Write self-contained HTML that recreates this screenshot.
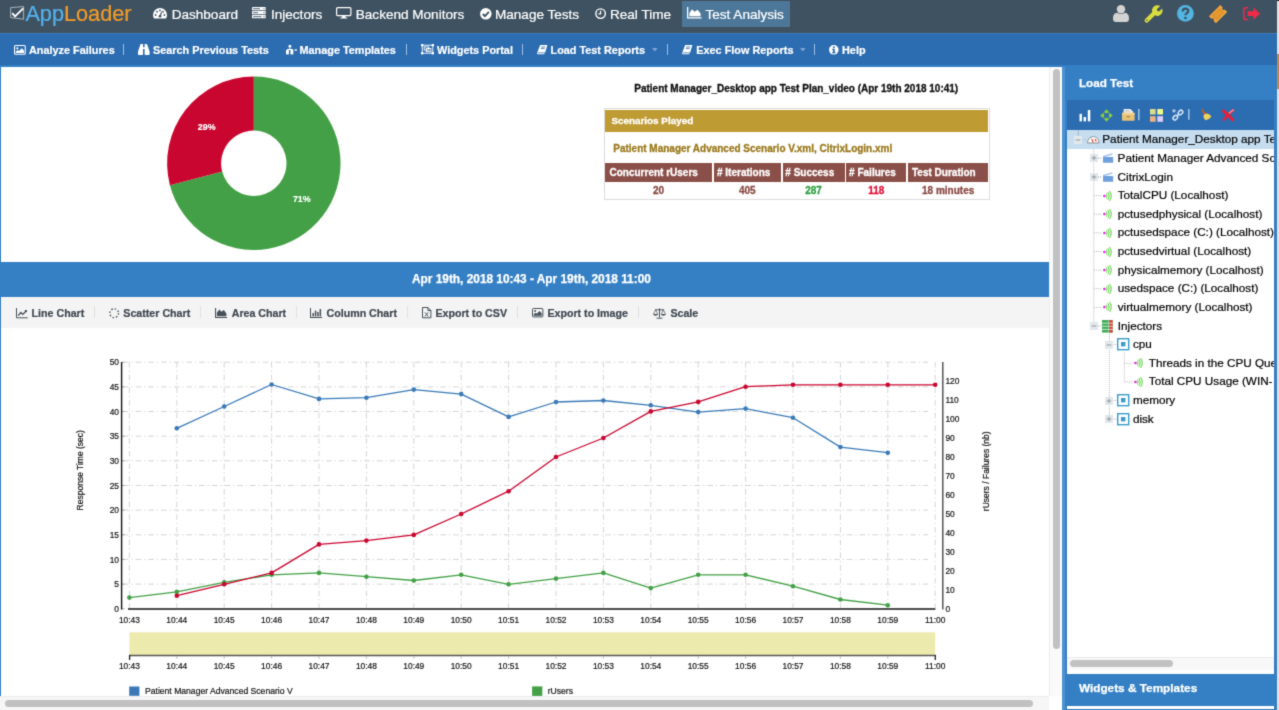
<!DOCTYPE html>
<html lang="en">
<head>
<meta charset="utf-8">
<title>AppLoader - Test Analysis</title>
<style>
*{box-sizing:border-box;margin:0;padding:0}
html,body{width:1279px;height:710px;overflow:hidden;background:#fff}
body{position:relative;font-family:"Liberation Sans",sans-serif;color:#000;-webkit-font-smoothing:antialiased}
#app{position:absolute;left:0;top:0;width:1279px;height:710px;overflow:hidden;background:#fff;filter:url(#soft)}
.abs{position:absolute}
.t{position:absolute;white-space:nowrap;line-height:1}
svg{position:absolute;overflow:visible}
/* top nav */
#nav{left:0;top:0;width:1279px;height:33px;background:#3f5261}
#nav .t{color:#fff;font-size:14px;top:8px;-webkit-text-stroke:.22px currentColor}
#navact{left:682px;top:1px;width:108px;height:26px;background:#4d7799}
/* blue sub toolbar */
#sub{left:0;top:33px;width:1279px;height:32px;background:#2c6cb0;box-shadow:inset 0 1px 0 #3a7cbd}
#sub .t{color:#fff;font-size:10.5px;font-weight:bold;top:11px;-webkit-text-stroke:.2px currentColor}
#sub .sep{position:absolute;top:11.3px;width:1.2px;height:10.8px;background:#9fc0e2}
#frame{left:0;top:65px;width:1279px;height:645px;background:#3580c5}
/* main area */
#main{left:1px;top:67px;width:1048px;height:643px;background:#fff}
#vtrack{left:1049px;top:67px;width:13px;height:629px;background:#fafafa;border-left:1px solid #ececec}
#vthumb{left:1052.5px;top:69px;width:7.2px;height:579.7px;border-radius:4px;background:#c1c1c1}
#htrack{left:0;top:696px;width:1049px;height:14px;background:#f6f6f6;border-top:1px solid #ececec}
#hthumb{left:4.5px;top:700px;width:1028px;height:7.3px;border-radius:4px;background:#c1c1c1}
#corner{left:1049px;top:696px;width:13px;height:14px;background:#fff}
#datebar{left:1px;top:262px;width:1048px;height:35px;background:#3580c5}
#datebar .t{color:#fff;font-weight:bold;font-size:11.87px;top:12.1px;-webkit-text-stroke:.25px #fff}
#cbar{left:1px;top:297px;width:1048px;height:31px;background:#f4f4f4}
#cbar .t{color:#3d4650;font-weight:bold;font-size:10.5px;top:10px;-webkit-text-stroke:.2px #3d4650}
#cbar .sep{position:absolute;top:9px;width:1px;height:12px;background:#e1e1e1}
/* right panel */
#rp{left:1066px;top:65px;width:211px;height:645px;background:#3580c5}
#rpsplit{left:1062px;top:67px;width:3px;height:643px;background:#4b93d3}
#rptool{left:1067px;top:99.5px;width:207px;height:31px;background:#2c6cb0}
#tree{left:1067px;top:130px;width:207px;height:540px;background:#fff;overflow:hidden}
#tree .t{font-size:11px;color:#000;-webkit-text-stroke:.2px #000}
#rpedge{left:1277px;top:0;width:2px;height:710px;background:#e2e2e2;border-top:1px solid #222}
#rpedge2{left:1277px;top:54px;width:2px;height:35px;background:#c28a4a}
</style>
</head>
<body>
<svg width="0" height="0" style="position:absolute"><defs><filter id="soft" x="0" y="0" width="100%" height="100%" color-interpolation-filters="sRGB"><feConvolveMatrix order="3" kernelMatrix="0.01960 0.10080 0.01960 0.10080 0.51840 0.10080 0.01960 0.10080 0.01960" divisor="1" edgeMode="duplicate" preserveAlpha="true"/></filter></defs></svg>
<div id="app">
<div id="nav" class="abs"><div id="navact" class="abs"></div>
<svg style="left:10px;top:6px" width="15" height="14" viewBox="0 0 15 14"><path d="M0.7 1.6 L13.6 0.6 L13.6 13.2 L0.7 11.6Z" fill="none" stroke="#aab5bd" stroke-width="1"/><path d="M2.2 7.2 L5 10.4 L13.2 2.4" fill="none" stroke="#fff" stroke-width="1.9"/></svg>
<span class="t" style="left:25.4px;font-size:21.7px;top:2.63px;letter-spacing:0"><span style="color:#54b1ee">App</span><span style="color:#f39c27">Loader</span></span>
<span class="t" style="left:171.7px;font-size:13.55px;top:7.53px;">Dashboard</span>
<span class="t" style="left:271px;font-size:13.55px;top:7.53px;">Injectors</span>
<span class="t" style="left:355.8px;font-size:13.55px;top:7.53px;">Backend Monitors</span>
<span class="t" style="left:495px;font-size:13.55px;top:7.53px;">Manage Tests</span>
<span class="t" style="left:610px;font-size:13.55px;top:7.53px;">Real Time</span>
<span class="t" style="left:705.5px;font-size:13.55px;top:7.53px;">Test Analysis</span>
<svg style="left:153px;top:8.3px" width="14" height="10.4" viewBox="0 0 14 10.4"><path d="M0 7 A7 7 0 0 1 14 7 Q14 9 13 10.4 H1 Q0 9 0 7Z" fill="#fff"/><g fill="#3f5261"><circle cx="2.6" cy="7" r=".9"/><circle cx="4" cy="3.7" r=".9"/><circle cx="7" cy="2.4" r=".9"/><circle cx="10" cy="3.7" r=".9"/><circle cx="11.4" cy="7" r=".9"/><path d="M6.2 8.6 L8.3 3.6 L9 3.9 L7.8 8.9Z"/><circle cx="7" cy="8.2" r="1.3"/></g></svg>
<svg style="left:252.3px;top:6.9px" width="13.7" height="11.2" viewBox="0 0 13.7 11.2"><g fill="#fff"><rect x="0" y="0" width="13.7" height="3.2" rx=".5"/><rect x="0" y="4" width="13.7" height="3.2" rx=".5"/><rect x="0" y="8" width="13.7" height="3.2" rx=".5"/></g><g fill="#6d7f8d"><rect x="1" y="1" width="7" height="1.2"/><rect x="1" y="5" width="5" height="1.2"/><rect x="1" y="9" width="8.5" height="1.2"/></g><g fill="#3f5261"><circle cx="12" cy="1.6" r=".6"/><circle cx="12" cy="5.6" r=".6"/><circle cx="12" cy="9.6" r=".6"/></g></svg>
<svg style="left:335.5px;top:7.2px" width="15.5" height="11.6" viewBox="0 0 15.5 11.6"><rect x=".6" y=".6" width="14.3" height="8" rx="1" fill="none" stroke="#fff" stroke-width="1.2"/><path d="M6.3 8.6 L5.8 10.4 H9.7 L9.2 8.6Z M4.3 10.4 H11.2 V11.4 H4.3Z" fill="#fff"/></svg>
<svg style="left:480px;top:7.8px" width="11.6" height="11.6" viewBox="0 0 12 12"><circle cx="6" cy="6" r="6" fill="#fff"/><path d="M2.9 6.2 L5.1 8.4 L9.2 4.1" fill="none" stroke="#3f5261" stroke-width="1.9"/></svg>
<svg style="left:594.5px;top:7.8px" width="11.2" height="11.2" viewBox="0 0 12 12"><circle cx="6" cy="6" r="5.1" fill="none" stroke="#fff" stroke-width="1.5"/><path d="M6 2.9 V6.4 H3.6" fill="none" stroke="#fff" stroke-width="1.3"/></svg>
<svg style="left:686.5px;top:7.4px" width="14.6" height="11.6" viewBox="0 0 14.6 11.6"><path d="M0 0 H1.3 V10.3 H14.6 V11.6 H0Z" fill="#fff"/><path d="M2.4 9.3 V6 L5 2.2 L7.6 4.8 L10.6 2.7 L13.6 6.6 V9.3Z" fill="#fff"/></svg>
<svg style="left:1113px;top:5px" width="16" height="17" viewBox="0 0 16 17"><circle cx="8" cy="4.2" r="4.2" fill="#d3d3d3"/><path d="M0 13.5 Q0 8.2 4 7.8 Q8 10.4 12 7.8 Q16 8.2 16 13.5 Q16 17 13 17 H3 Q0 17 0 13.5Z" fill="#d3d3d3"/></svg>
<svg style="left:1143.8px;top:5.2px" width="18.4" height="18.2" viewBox="0 0 18.4 18.2"><path d="M2.7 15.5 L10.6 7.8" stroke="#d9dc3f" stroke-width="4.3" stroke-linecap="round" fill="none"/><path d="M13 0.3 A5.3 5.3 0 0 1 16.2 1 L12.9 4.3 L13.4 6.0 L15.1 6.5 L18.1 3.4 A5.3 5.3 0 1 1 13 0.3Z" fill="#d9dc3f"/><circle cx="2.9" cy="15.3" r=".8" fill="#3f5261"/></svg>
<svg style="left:1176.8px;top:5.2px" width="16.8" height="16.8" viewBox="0 0 16.8 16.8"><circle cx="8.4" cy="8.4" r="8.4" fill="#52b5e3"/><path d="M5.7 6.4 Q5.7 3.6 8.5 3.6 Q11.2 3.6 11.2 6 Q11.2 7.5 9.6 8.2 Q8.5 8.7 8.5 10.2" fill="none" stroke="#3f5261" stroke-width="2.3"/><circle cx="8.5" cy="13" r="1.35" fill="#3f5261"/></svg>
<svg style="left:1209.4px;top:4.7px" width="18.2" height="18.2" viewBox="0 0 18.2 18.2"><g transform="rotate(-45 9.1 9.1)"><path d="M1.1 4.2 H17.1 V7.6 A1.5 1.5 0 0 0 17.1 10.6 V14 H1.1 V10.6 A1.5 1.5 0 0 0 1.1 7.6Z" fill="#f0a33c"/><rect x="4.3" y="6.5" width="9.6" height="5.2" fill="#e8982e" stroke="#c98628" stroke-width=".9"/></g></svg>
<svg style="left:1243.3px;top:7.3px" width="17" height="13.4" viewBox="0 0 17 13.4"><path d="M5.2 0.8 H3 Q.8 .8 .8 3 V10.4 Q.8 12.6 3 12.6 H5.2" fill="none" stroke="#ee2a4a" stroke-width="1.5"/><path d="M4.6 4.3 H10.4 V0.6 L17 6.7 L10.4 12.8 V9.1 H4.6Z" fill="#ee2a4a"/></svg>
</div>
<div id="sub" class="abs">
<span class="t" style="left:29px;font-size:10.86px;top:11.51px;">Analyze Failures</span>
<span class="t" style="left:153px;font-size:10.86px;top:11.51px;">Search Previous Tests</span>
<span class="t" style="left:299.5px;font-size:10.86px;top:11.51px;">Manage Templates</span>
<span class="t" style="left:437px;font-size:10.86px;top:11.51px;">Widgets Portal</span>
<span class="t" style="left:550.5px;font-size:10.86px;top:11.51px;">Load Test Reports</span>
<span class="t" style="left:696.3px;font-size:10.86px;top:11.51px;">Exec Flow Reports</span>
<span class="t" style="left:842px;font-size:10.86px;top:11.51px;">Help</span>
<i class="sep" style="left:123.3px"></i>
<i class="sep" style="left:406px"></i>
<i class="sep" style="left:521.7px"></i>
<i class="sep" style="left:666.7px"></i>
<i class="sep" style="left:813.5px"></i>
<svg style="left:13.5px;top:11.6px" width="11.8" height="9.8" viewBox="0 0 11.8 9.8"><rect x=".55" y=".55" width="10.7" height="8.7" rx="1" fill="none" stroke="#fff" stroke-width="1.1"/><circle cx="3.3" cy="3.3" r="1.1" fill="#fff"/><path d="M1.8 8 V6.6 L3.8 4.9 L5 5.9 L7.8 3.2 L10 5.4 V8Z" fill="#fff"/></svg>
<svg style="left:138px;top:11px" width="11.6" height="11" viewBox="0 0 11.6 11"><path d="M2.6 0 H5 V3.2 H6.6 V0 H9 L11.6 7.6 V10.2 Q11.6 11 10.8 11 H7.4 Q6.6 11 6.6 10.2 V5 H5 V10.2 Q5 11 4.2 11 H.8 Q0 11 0 10.2 V7.6Z" fill="#fff"/></svg>
<svg style="left:286px;top:12px" width="11" height="9.4" viewBox="0 0 11 9.4"><g fill="#fff"><rect x="2.6" y="0" width="2.6" height="2.4"/><rect x="3.5" y="2" width=".9" height="3"/><rect x="1" y="4" width="5.8" height="1"/><rect x="0" y="5" width="2.9" height="4.4"/><rect x="4.4" y="5" width="2.9" height="4.4"/><rect x="8.4" y="4.4" width="2.6" height="1.3"/></g></svg>
<svg style="left:420.8px;top:11.3px" width="13" height="10.4" viewBox="0 0 13 10.4"><g fill="none" stroke="#fff" stroke-width=".9"><rect x="1.2" y="1.2" width="10.6" height="8"/><rect x="3.2" y="2.9" width="4.6" height="3.2"/><rect x="5.3" y="4.5" width="4.6" height="3.2"/></g><g fill="#fff"><rect x="0" y="0" width="2.3" height="2.3"/><rect x="10.7" y="0" width="2.3" height="2.3"/><rect x="0" y="8.1" width="2.3" height="2.3"/><rect x="10.7" y="8.1" width="2.3" height="2.3"/></g></svg>
<svg style="left:537px;top:12px" width="10.4" height="9.2" viewBox="0 0 10.4 9.2"><path d="M3.2 0 H10.4 L8.2 7.4 H1 L0.6 8.3 H7.6 L7.3 9.2 H0.4 Q-0.3 8.6 0.3 7.4Z" fill="#fff"/><path d="M4.2 2 H8.2 M3.8 3.6 H7.6" stroke="#2c6cb0" stroke-width=".8"/></svg>
<svg style="left:682px;top:12px" width="10.4" height="9.2" viewBox="0 0 10.4 9.2"><path d="M3.2 0 H10.4 L8.2 7.4 H1 L0.6 8.3 H7.6 L7.3 9.2 H0.4 Q-0.3 8.6 0.3 7.4Z" fill="#fff"/><path d="M4.2 2 H8.2 M3.8 3.6 H7.6" stroke="#2c6cb0" stroke-width=".8"/></svg>
<svg style="left:652px;top:15.2px" width="5.6" height="3.4" viewBox="0 0 5.6 3.4"><path d="M0 0 H5.6 L2.8 3.4Z" fill="#7fa6d2"/></svg>
<svg style="left:800px;top:15.2px" width="5.6" height="3.4" viewBox="0 0 5.6 3.4"><path d="M0 0 H5.6 L2.8 3.4Z" fill="#7fa6d2"/></svg>
<svg style="left:829.3px;top:11.8px" width="9.6" height="9.6" viewBox="0 0 10 10"><circle cx="5" cy="5" r="5" fill="#fff"/><g fill="#2c6cb0"><rect x="4.1" y="1.5" width="1.9" height="1.7"/><path d="M3.3 4 H6 V7.3 H6.8 V8.5 H3.3 V7.3 H4.1 V5.2 H3.3Z"/></g></svg>
</div>
<div id="frame" class="abs"></div>
<div id="main" class="abs"></div>
<svg style="left:0;top:0" width="1049" height="262"><path d="M253.80 76.60 A86.7 86.7 0 1 1 169.90 185.15 L222.16 171.54 A32.7 32.7 0 1 0 253.80 130.60Z" fill="#43a046"/><path d="M169.90 185.15 A86.7 86.7 0 0 1 253.80 76.60 L253.80 130.60 A32.7 32.7 0 0 0 222.16 171.54Z" fill="#c9062f"/></svg>
<span class="t" style="left:197.8px;font-size:8.85px;top:122.51px;color:#fff;font-weight:bold;-webkit-text-stroke:.2px #fff">29%</span>
<span class="t" style="left:292.9px;font-size:8.85px;top:195.21px;color:#fff;font-weight:bold;-webkit-text-stroke:.2px #fff">71%</span>
<span class="t" style="left:634.3px;font-size:9.99px;top:83.54px;font-weight:bold;color:#111;-webkit-text-stroke:.3px #111">Patient Manager_Desktop app Test Plan_video (Apr 19th 2018 10:41)</span>
<div class="abs" style="left:603.5px;top:107.5px;width:386.3px;height:92.4px;border:1px solid #dcdcdc;background:#fff"></div>
<div class="abs" style="left:605px;top:109.8px;width:383px;height:22.5px;background:#bf9b34"></div>
<span class="t" style="left:611.4px;font-size:9.88px;top:116.24px;font-weight:bold;color:#fff;-webkit-text-stroke:.3px #fff">Scenarios Played</span>
<span class="t" style="left:613.3px;font-size:9.99px;top:143.54px;font-weight:bold;color:#9a7a1e;-webkit-text-stroke:.3px #9a7a1e">Patient Manager Advanced Scenario V.xml, CitrixLogin.xml</span>
<div class="abs" style="left:605px;top:163px;width:107.0px;height:18.8px;background:#8b4f49"></div>
<span class="t" style="left:609.5px;font-size:10.0px;top:168.03px;font-weight:bold;color:#fff;-webkit-text-stroke:.3px #fff">Concurrent rUsers</span>
<span class="t" style="left:605px;width:107.0px;text-align:center;font-size:10px;top:185.94px;font-weight:bold;color:#8b4a44;-webkit-text-stroke:.3px #8b4a44">20</span>
<div class="abs" style="left:713.8px;top:163px;width:66.9px;height:18.8px;background:#8b4f49"></div>
<span class="t" style="left:717.0px;font-size:10.0px;top:168.03px;font-weight:bold;color:#fff;-webkit-text-stroke:.3px #fff"># Iterations</span>
<span class="t" style="left:713.8px;width:66.9px;text-align:center;font-size:10px;top:185.94px;font-weight:bold;color:#8b4a44;-webkit-text-stroke:.3px #8b4a44">405</span>
<div class="abs" style="left:782.5px;top:163px;width:62.0px;height:18.8px;background:#8b4f49"></div>
<span class="t" style="left:785.3px;font-size:10.0px;top:168.03px;font-weight:bold;color:#fff;-webkit-text-stroke:.3px #fff"># Success</span>
<span class="t" style="left:782.5px;width:62.0px;text-align:center;font-size:10px;top:185.94px;font-weight:bold;color:#2fa043;-webkit-text-stroke:.3px #2fa043">287</span>
<div class="abs" style="left:846.3px;top:163px;width:60.1px;height:18.8px;background:#8b4f49"></div>
<span class="t" style="left:849.1px;font-size:10.0px;top:168.03px;font-weight:bold;color:#fff;-webkit-text-stroke:.3px #fff"># Failures</span>
<span class="t" style="left:846.3px;width:60.1px;text-align:center;font-size:10px;top:185.94px;font-weight:bold;color:#e2103c;-webkit-text-stroke:.3px #e2103c">118</span>
<div class="abs" style="left:908.3px;top:163px;width:79.7px;height:18.8px;background:#8b4f49"></div>
<span class="t" style="left:912.0px;font-size:10.0px;top:168.03px;font-weight:bold;color:#fff;-webkit-text-stroke:.3px #fff">Test Duration</span>
<span class="t" style="left:908.3px;width:79.7px;text-align:center;font-size:10px;top:185.94px;font-weight:bold;color:#8b4a44;-webkit-text-stroke:.3px #8b4a44">18 minutes</span>
<div id="datebar" class="abs"><span class="t" style="left:411px">Apr 19th, 2018 10:43 - Apr 19th, 2018 11:00</span></div>
<div id="cbar" class="abs">
<span class="t" style="left:30.6px;font-size:10.66px;top:10.78px;">Line Chart</span>
<span class="t" style="left:122.3px;font-size:10.66px;top:10.78px;">Scatter Chart</span>
<span class="t" style="left:230.7px;font-size:10.66px;top:10.78px;">Area Chart</span>
<span class="t" style="left:325.5px;font-size:10.66px;top:10.78px;">Column Chart</span>
<span class="t" style="left:434.4px;font-size:10.66px;top:10.78px;">Export to CSV</span>
<span class="t" style="left:546.4px;font-size:10.66px;top:10.78px;">Export to Image</span>
<span class="t" style="left:669.4px;font-size:10.66px;top:10.78px;">Scale</span>
<i class="sep" style="left:92.8px"></i>
<i class="sep" style="left:199.2px"></i>
<i class="sep" style="left:294.6px"></i>
<i class="sep" style="left:405.5px"></i>
<i class="sep" style="left:515.5px"></i>
<i class="sep" style="left:637.1px"></i>
<svg style="left:14.5px;top:10.7px" width="11.8" height="10.3" viewBox="0 0 11.8 10.3"><path d="M.5 0 V9.8 H11.8" fill="none" stroke="#46505a" stroke-width="1"/><path d="M2.2 7.6 L4.8 4.6 L6.8 6.4 L10.6 2.4" fill="none" stroke="#46505a" stroke-width="1.4"/><path d="M8.4 2 H11 V4.6Z" fill="#46505a"/></svg>
<svg style="left:108.2px;top:10.7px" width="10.4" height="10.4" viewBox="0 0 10.4 10.4"><circle cx="5.2" cy="5.2" r="4.4" fill="none" stroke="#46505a" stroke-width="1.4" stroke-dasharray="1.5 1.95"/></svg>
<svg style="left:214.3px;top:11.0px" width="12.1" height="10" viewBox="0 0 12.1 10"><path d="M0 0 H1.1 V8.9 H12.1 V10 H0Z" fill="#46505a"/><path d="M1.9 8.2 V4.8 L4.3 1.6 L6.4 3.8 L8.8 2 L11.4 5.4 V8.2Z" fill="#46505a"/></svg>
<svg style="left:309.2px;top:11.0px" width="12.1" height="10" viewBox="0 0 12.1 10"><path d="M0 0 H1 V9 H12.1 V10 H0Z" fill="#46505a"/><g fill="#46505a"><rect x="2.4" y="5" width="1.5" height="3.4"/><rect x="4.8" y="2.6" width="1.5" height="5.8"/><rect x="7.2" y="4" width="1.5" height="4.4"/><rect x="9.6" y="1" width="1.5" height="7.4"/></g></svg>
<svg style="left:420.9px;top:10.1px" width="9.4" height="11.3" viewBox="0 0 9.4 11.3"><path d="M.5 .5 H5.9 L8.9 3.5 V10.8 H.5Z M5.9 .5 V3.5 H8.9" fill="none" stroke="#46505a" stroke-width="1"/><path d="M3 5.4 L6.2 9.4 M6.2 5.4 L3 9.4" stroke="#46505a" stroke-width="1"/></svg>
<svg style="left:531.2px;top:11.2px" width="11.4" height="9.4" viewBox="0 0 11.4 9.4"><rect x=".5" y=".5" width="10.4" height="8.4" rx=".8" fill="none" stroke="#46505a" stroke-width="1"/><circle cx="3.1" cy="3.1" r="1" fill="#46505a"/><path d="M1.7 7.7 V6.3 L3.6 4.7 L4.8 5.7 L7.5 3.1 L9.7 5.2 V7.7Z" fill="#46505a"/></svg>
<svg style="left:652.3px;top:10.7px" width="13" height="10.7" viewBox="0 0 13 10.7"><path d="M6.5 .4 V9.6 M2 1.8 H11 M3.6 10.2 H9.4" fill="none" stroke="#46505a" stroke-width="1"/><path d="M2.6 1.9 L.5 6 M2.6 1.9 L4.7 6 M10.4 1.9 L8.3 6 M10.4 1.9 L12.5 6" stroke="#46505a" stroke-width=".7"/><path d="M0 6 H5.2 Q4.6 7.8 2.6 7.8 Q.6 7.8 0 6Z M7.8 6 H13 Q12.4 7.8 10.4 7.8 Q8.4 7.8 7.8 6Z" fill="#46505a"/></svg>
</div>
<svg style="left:0;top:0" width="1049" height="710"><path d="M123 584.1 H928" stroke="#d4d4d4" stroke-width="1" stroke-dasharray="5.5 3 1.2 3" fill="none"/><path d="M123 559.4 H928" stroke="#d4d4d4" stroke-width="1" stroke-dasharray="5.5 3 1.2 3" fill="none"/><path d="M123 534.8 H928" stroke="#d4d4d4" stroke-width="1" stroke-dasharray="5.5 3 1.2 3" fill="none"/><path d="M123 510.1 H928" stroke="#d4d4d4" stroke-width="1" stroke-dasharray="5.5 3 1.2 3" fill="none"/><path d="M123 485.5 H928" stroke="#d4d4d4" stroke-width="1" stroke-dasharray="5.5 3 1.2 3" fill="none"/><path d="M123 460.8 H928" stroke="#d4d4d4" stroke-width="1" stroke-dasharray="5.5 3 1.2 3" fill="none"/><path d="M123 436.2 H928" stroke="#d4d4d4" stroke-width="1" stroke-dasharray="5.5 3 1.2 3" fill="none"/><path d="M123 411.5 H928" stroke="#d4d4d4" stroke-width="1" stroke-dasharray="5.5 3 1.2 3" fill="none"/><path d="M123 386.9 H928" stroke="#d4d4d4" stroke-width="1" stroke-dasharray="5.5 3 1.2 3" fill="none"/><path d="M123 362.2 H928" stroke="#d4d4d4" stroke-width="1" stroke-dasharray="5.5 3 1.2 3" fill="none"/><path d="M129.4 362 V608" stroke="#d4d4d4" stroke-width="1" stroke-dasharray="5.5 3 1.2 3" fill="none"/><path d="M176.8 362 V608" stroke="#d4d4d4" stroke-width="1" stroke-dasharray="5.5 3 1.2 3" fill="none"/><path d="M224.2 362 V608" stroke="#d4d4d4" stroke-width="1" stroke-dasharray="5.5 3 1.2 3" fill="none"/><path d="M271.6 362 V608" stroke="#d4d4d4" stroke-width="1" stroke-dasharray="5.5 3 1.2 3" fill="none"/><path d="M319.0 362 V608" stroke="#d4d4d4" stroke-width="1" stroke-dasharray="5.5 3 1.2 3" fill="none"/><path d="M366.4 362 V608" stroke="#d4d4d4" stroke-width="1" stroke-dasharray="5.5 3 1.2 3" fill="none"/><path d="M413.8 362 V608" stroke="#d4d4d4" stroke-width="1" stroke-dasharray="5.5 3 1.2 3" fill="none"/><path d="M461.2 362 V608" stroke="#d4d4d4" stroke-width="1" stroke-dasharray="5.5 3 1.2 3" fill="none"/><path d="M508.6 362 V608" stroke="#d4d4d4" stroke-width="1" stroke-dasharray="5.5 3 1.2 3" fill="none"/><path d="M556.0 362 V608" stroke="#d4d4d4" stroke-width="1" stroke-dasharray="5.5 3 1.2 3" fill="none"/><path d="M603.4 362 V608" stroke="#d4d4d4" stroke-width="1" stroke-dasharray="5.5 3 1.2 3" fill="none"/><path d="M650.8 362 V608" stroke="#d4d4d4" stroke-width="1" stroke-dasharray="5.5 3 1.2 3" fill="none"/><path d="M698.2 362 V608" stroke="#d4d4d4" stroke-width="1" stroke-dasharray="5.5 3 1.2 3" fill="none"/><path d="M745.6 362 V608" stroke="#d4d4d4" stroke-width="1" stroke-dasharray="5.5 3 1.2 3" fill="none"/><path d="M793.0 362 V608" stroke="#d4d4d4" stroke-width="1" stroke-dasharray="5.5 3 1.2 3" fill="none"/><path d="M840.4 362 V608" stroke="#d4d4d4" stroke-width="1" stroke-dasharray="5.5 3 1.2 3" fill="none"/><path d="M887.8 362 V608" stroke="#d4d4d4" stroke-width="1" stroke-dasharray="5.5 3 1.2 3" fill="none"/><path d="M935.2 362 V608" stroke="#d4d4d4" stroke-width="1" stroke-dasharray="5.5 3 1.2 3" fill="none"/><path d="M122 608.7 H124.5" stroke="#999" stroke-width=".8"/><path d="M122 584.1 H124.5" stroke="#999" stroke-width=".8"/><path d="M122 559.4 H124.5" stroke="#999" stroke-width=".8"/><path d="M122 534.8 H124.5" stroke="#999" stroke-width=".8"/><path d="M122 510.1 H124.5" stroke="#999" stroke-width=".8"/><path d="M122 485.5 H124.5" stroke="#999" stroke-width=".8"/><path d="M122 460.8 H124.5" stroke="#999" stroke-width=".8"/><path d="M122 436.2 H124.5" stroke="#999" stroke-width=".8"/><path d="M122 411.5 H124.5" stroke="#999" stroke-width=".8"/><path d="M122 386.9 H124.5" stroke="#999" stroke-width=".8"/><path d="M122 362.2 H124.5" stroke="#999" stroke-width=".8"/><path d="M129.4 597.6 L176.8 591.9 L224.2 582.4 L271.6 574.8 L319.0 572.9 L366.4 576.7 L413.8 580.5 L461.2 574.8 L508.6 584.3 L556.0 578.6 L603.4 572.9 L650.8 588.1 L698.2 574.8 L745.6 574.8 L793.0 586.2 L840.4 599.5 L887.8 605.2" fill="none" stroke="#43a046" stroke-width="1.3" stroke-linejoin="round"/><circle cx="129.4" cy="597.6" r="2.3" fill="#43a046"/><circle cx="176.8" cy="591.9" r="2.3" fill="#43a046"/><circle cx="224.2" cy="582.4" r="2.3" fill="#43a046"/><circle cx="271.6" cy="574.8" r="2.3" fill="#43a046"/><circle cx="319.0" cy="572.9" r="2.3" fill="#43a046"/><circle cx="366.4" cy="576.7" r="2.3" fill="#43a046"/><circle cx="413.8" cy="580.5" r="2.3" fill="#43a046"/><circle cx="461.2" cy="574.8" r="2.3" fill="#43a046"/><circle cx="508.6" cy="584.3" r="2.3" fill="#43a046"/><circle cx="556.0" cy="578.6" r="2.3" fill="#43a046"/><circle cx="603.4" cy="572.9" r="2.3" fill="#43a046"/><circle cx="650.8" cy="588.1" r="2.3" fill="#43a046"/><circle cx="698.2" cy="574.8" r="2.3" fill="#43a046"/><circle cx="745.6" cy="574.8" r="2.3" fill="#43a046"/><circle cx="793.0" cy="586.2" r="2.3" fill="#43a046"/><circle cx="840.4" cy="599.5" r="2.3" fill="#43a046"/><circle cx="887.8" cy="605.2" r="2.3" fill="#43a046"/><path d="M176.8 428.3 L224.2 406.5 L271.6 384.5 L319.0 398.9 L366.4 397.7 L413.8 389.6 L461.2 394.1 L508.6 416.9 L556.0 402.0 L603.4 400.5 L650.8 405.3 L698.2 412.1 L745.6 408.6 L793.0 417.7 L840.4 447.1 L887.8 452.7" fill="none" stroke="#3a7ab8" stroke-width="1.3" stroke-linejoin="round"/><circle cx="176.8" cy="428.3" r="2.3" fill="#3a7ab8"/><circle cx="224.2" cy="406.5" r="2.3" fill="#3a7ab8"/><circle cx="271.6" cy="384.5" r="2.3" fill="#3a7ab8"/><circle cx="319.0" cy="398.9" r="2.3" fill="#3a7ab8"/><circle cx="366.4" cy="397.7" r="2.3" fill="#3a7ab8"/><circle cx="413.8" cy="389.6" r="2.3" fill="#3a7ab8"/><circle cx="461.2" cy="394.1" r="2.3" fill="#3a7ab8"/><circle cx="508.6" cy="416.9" r="2.3" fill="#3a7ab8"/><circle cx="556.0" cy="402.0" r="2.3" fill="#3a7ab8"/><circle cx="603.4" cy="400.5" r="2.3" fill="#3a7ab8"/><circle cx="650.8" cy="405.3" r="2.3" fill="#3a7ab8"/><circle cx="698.2" cy="412.1" r="2.3" fill="#3a7ab8"/><circle cx="745.6" cy="408.6" r="2.3" fill="#3a7ab8"/><circle cx="793.0" cy="417.7" r="2.3" fill="#3a7ab8"/><circle cx="840.4" cy="447.1" r="2.3" fill="#3a7ab8"/><circle cx="887.8" cy="452.7" r="2.3" fill="#3a7ab8"/><path d="M176.8 595.7 L224.2 584.3 L271.6 572.9 L319.0 544.4 L366.4 540.6 L413.8 534.9 L461.2 514.0 L508.6 491.2 L556.0 457.0 L603.4 438.0 L650.8 411.4 L698.2 401.9 L745.6 386.7 L793.0 384.8 L840.4 384.8 L887.8 384.8 L935.2 384.8" fill="none" stroke="#c9062f" stroke-width="1.3" stroke-linejoin="round"/><circle cx="176.8" cy="595.7" r="2.3" fill="#c9062f"/><circle cx="224.2" cy="584.3" r="2.3" fill="#c9062f"/><circle cx="271.6" cy="572.9" r="2.3" fill="#c9062f"/><circle cx="319.0" cy="544.4" r="2.3" fill="#c9062f"/><circle cx="366.4" cy="540.6" r="2.3" fill="#c9062f"/><circle cx="413.8" cy="534.9" r="2.3" fill="#c9062f"/><circle cx="461.2" cy="514.0" r="2.3" fill="#c9062f"/><circle cx="508.6" cy="491.2" r="2.3" fill="#c9062f"/><circle cx="556.0" cy="457.0" r="2.3" fill="#c9062f"/><circle cx="603.4" cy="438.0" r="2.3" fill="#c9062f"/><circle cx="650.8" cy="411.4" r="2.3" fill="#c9062f"/><circle cx="698.2" cy="401.9" r="2.3" fill="#c9062f"/><circle cx="745.6" cy="386.7" r="2.3" fill="#c9062f"/><circle cx="793.0" cy="384.8" r="2.3" fill="#c9062f"/><circle cx="840.4" cy="384.8" r="2.3" fill="#c9062f"/><circle cx="887.8" cy="384.8" r="2.3" fill="#c9062f"/><circle cx="935.2" cy="384.8" r="2.3" fill="#c9062f"/><path d="M121.6 362 V609.6" stroke="#111" stroke-width="1.4"/><path d="M128 609 H935.4" stroke="#111" stroke-width="1.4"/><path d="M942.8 362 V609.6" stroke="#555" stroke-width="1.5"/><rect x="129.4" y="632.3" width="805.8" height="22.7" fill="#edeaae"/><path d="M129 655.5 H935.6" stroke="#555" stroke-width="1.3"/><path d="M129.6 655 V660 M935.3 655 V660" stroke="#222" stroke-width="1.3"/><path d="M176.8 656.2 V658.6" stroke="#b5b5b5" stroke-width="1"/><path d="M224.2 656.2 V658.6" stroke="#b5b5b5" stroke-width="1"/><path d="M271.6 656.2 V658.6" stroke="#b5b5b5" stroke-width="1"/><path d="M319.0 656.2 V658.6" stroke="#b5b5b5" stroke-width="1"/><path d="M366.4 656.2 V658.6" stroke="#b5b5b5" stroke-width="1"/><path d="M413.8 656.2 V658.6" stroke="#b5b5b5" stroke-width="1"/><path d="M461.2 656.2 V658.6" stroke="#b5b5b5" stroke-width="1"/><path d="M508.6 656.2 V658.6" stroke="#b5b5b5" stroke-width="1"/><path d="M556.0 656.2 V658.6" stroke="#b5b5b5" stroke-width="1"/><path d="M603.4 656.2 V658.6" stroke="#b5b5b5" stroke-width="1"/><path d="M650.8 656.2 V658.6" stroke="#b5b5b5" stroke-width="1"/><path d="M698.2 656.2 V658.6" stroke="#b5b5b5" stroke-width="1"/><path d="M745.6 656.2 V658.6" stroke="#b5b5b5" stroke-width="1"/><path d="M793.0 656.2 V658.6" stroke="#b5b5b5" stroke-width="1"/><path d="M840.4 656.2 V658.6" stroke="#b5b5b5" stroke-width="1"/><path d="M887.8 656.2 V658.6" stroke="#b5b5b5" stroke-width="1"/><rect x="129.2" y="686.5" width="10.2" height="9.3" fill="#3a78b6"/><rect x="532.1" y="686.4" width="10.2" height="9.5" fill="#43a046"/></svg>
<span class="t" style="left:89px;width:30px;text-align:right;font-size:8.4px;top:604.99px;color:#151515;-webkit-text-stroke:.2px #151515;">0</span>
<span class="t" style="left:89px;width:30px;text-align:right;font-size:8.4px;top:580.34px;color:#151515;-webkit-text-stroke:.2px #151515;">5</span>
<span class="t" style="left:89px;width:30px;text-align:right;font-size:8.4px;top:555.69px;color:#151515;-webkit-text-stroke:.2px #151515;">10</span>
<span class="t" style="left:89px;width:30px;text-align:right;font-size:8.4px;top:531.04px;color:#151515;-webkit-text-stroke:.2px #151515;">15</span>
<span class="t" style="left:89px;width:30px;text-align:right;font-size:8.4px;top:506.39px;color:#151515;-webkit-text-stroke:.2px #151515;">20</span>
<span class="t" style="left:89px;width:30px;text-align:right;font-size:8.4px;top:481.74px;color:#151515;-webkit-text-stroke:.2px #151515;">25</span>
<span class="t" style="left:89px;width:30px;text-align:right;font-size:8.4px;top:457.09px;color:#151515;-webkit-text-stroke:.2px #151515;">30</span>
<span class="t" style="left:89px;width:30px;text-align:right;font-size:8.4px;top:432.44px;color:#151515;-webkit-text-stroke:.2px #151515;">35</span>
<span class="t" style="left:89px;width:30px;text-align:right;font-size:8.4px;top:407.79px;color:#151515;-webkit-text-stroke:.2px #151515;">40</span>
<span class="t" style="left:89px;width:30px;text-align:right;font-size:8.4px;top:383.14px;color:#151515;-webkit-text-stroke:.2px #151515;">45</span>
<span class="t" style="left:89px;width:30px;text-align:right;font-size:8.4px;top:358.49px;color:#151515;-webkit-text-stroke:.2px #151515;">50</span>
<span class="t" style="left:945.4px;font-size:8.4px;top:604.89px;color:#151515;-webkit-text-stroke:.2px #151515;">0</span>
<span class="t" style="left:945.4px;font-size:8.4px;top:585.89px;color:#151515;-webkit-text-stroke:.2px #151515;">10</span>
<span class="t" style="left:945.4px;font-size:8.4px;top:566.89px;color:#151515;-webkit-text-stroke:.2px #151515;">20</span>
<span class="t" style="left:945.4px;font-size:8.4px;top:547.89px;color:#151515;-webkit-text-stroke:.2px #151515;">30</span>
<span class="t" style="left:945.4px;font-size:8.4px;top:528.89px;color:#151515;-webkit-text-stroke:.2px #151515;">40</span>
<span class="t" style="left:945.4px;font-size:8.4px;top:509.89px;color:#151515;-webkit-text-stroke:.2px #151515;">50</span>
<span class="t" style="left:945.4px;font-size:8.4px;top:490.89px;color:#151515;-webkit-text-stroke:.2px #151515;">60</span>
<span class="t" style="left:945.4px;font-size:8.4px;top:471.89px;color:#151515;-webkit-text-stroke:.2px #151515;">70</span>
<span class="t" style="left:945.4px;font-size:8.4px;top:452.89px;color:#151515;-webkit-text-stroke:.2px #151515;">80</span>
<span class="t" style="left:945.4px;font-size:8.4px;top:433.89px;color:#151515;-webkit-text-stroke:.2px #151515;">90</span>
<span class="t" style="left:945.4px;font-size:8.4px;top:414.89px;color:#151515;-webkit-text-stroke:.2px #151515;">100</span>
<span class="t" style="left:945.4px;font-size:8.4px;top:395.89px;color:#151515;-webkit-text-stroke:.2px #151515;">110</span>
<span class="t" style="left:945.4px;font-size:8.4px;top:376.89px;color:#151515;-webkit-text-stroke:.2px #151515;">120</span>
<span class="t" style="left:109.4px;width:40px;text-align:center;font-size:8.4px;top:616.09px;color:#151515;-webkit-text-stroke:.2px #151515;">10:43</span>
<span class="t" style="left:109.4px;width:40px;text-align:center;font-size:8.4px;top:661.69px;color:#151515;-webkit-text-stroke:.2px #151515;">10:43</span>
<span class="t" style="left:156.8px;width:40px;text-align:center;font-size:8.4px;top:616.09px;color:#151515;-webkit-text-stroke:.2px #151515;">10:44</span>
<span class="t" style="left:156.8px;width:40px;text-align:center;font-size:8.4px;top:661.69px;color:#151515;-webkit-text-stroke:.2px #151515;">10:44</span>
<span class="t" style="left:204.2px;width:40px;text-align:center;font-size:8.4px;top:616.09px;color:#151515;-webkit-text-stroke:.2px #151515;">10:45</span>
<span class="t" style="left:204.2px;width:40px;text-align:center;font-size:8.4px;top:661.69px;color:#151515;-webkit-text-stroke:.2px #151515;">10:45</span>
<span class="t" style="left:251.6px;width:40px;text-align:center;font-size:8.4px;top:616.09px;color:#151515;-webkit-text-stroke:.2px #151515;">10:46</span>
<span class="t" style="left:251.6px;width:40px;text-align:center;font-size:8.4px;top:661.69px;color:#151515;-webkit-text-stroke:.2px #151515;">10:46</span>
<span class="t" style="left:299.0px;width:40px;text-align:center;font-size:8.4px;top:616.09px;color:#151515;-webkit-text-stroke:.2px #151515;">10:47</span>
<span class="t" style="left:299.0px;width:40px;text-align:center;font-size:8.4px;top:661.69px;color:#151515;-webkit-text-stroke:.2px #151515;">10:47</span>
<span class="t" style="left:346.4px;width:40px;text-align:center;font-size:8.4px;top:616.09px;color:#151515;-webkit-text-stroke:.2px #151515;">10:48</span>
<span class="t" style="left:346.4px;width:40px;text-align:center;font-size:8.4px;top:661.69px;color:#151515;-webkit-text-stroke:.2px #151515;">10:48</span>
<span class="t" style="left:393.8px;width:40px;text-align:center;font-size:8.4px;top:616.09px;color:#151515;-webkit-text-stroke:.2px #151515;">10:49</span>
<span class="t" style="left:393.8px;width:40px;text-align:center;font-size:8.4px;top:661.69px;color:#151515;-webkit-text-stroke:.2px #151515;">10:49</span>
<span class="t" style="left:441.2px;width:40px;text-align:center;font-size:8.4px;top:616.09px;color:#151515;-webkit-text-stroke:.2px #151515;">10:50</span>
<span class="t" style="left:441.2px;width:40px;text-align:center;font-size:8.4px;top:661.69px;color:#151515;-webkit-text-stroke:.2px #151515;">10:50</span>
<span class="t" style="left:488.6px;width:40px;text-align:center;font-size:8.4px;top:616.09px;color:#151515;-webkit-text-stroke:.2px #151515;">10:51</span>
<span class="t" style="left:488.6px;width:40px;text-align:center;font-size:8.4px;top:661.69px;color:#151515;-webkit-text-stroke:.2px #151515;">10:51</span>
<span class="t" style="left:536.0px;width:40px;text-align:center;font-size:8.4px;top:616.09px;color:#151515;-webkit-text-stroke:.2px #151515;">10:52</span>
<span class="t" style="left:536.0px;width:40px;text-align:center;font-size:8.4px;top:661.69px;color:#151515;-webkit-text-stroke:.2px #151515;">10:52</span>
<span class="t" style="left:583.4px;width:40px;text-align:center;font-size:8.4px;top:616.09px;color:#151515;-webkit-text-stroke:.2px #151515;">10:53</span>
<span class="t" style="left:583.4px;width:40px;text-align:center;font-size:8.4px;top:661.69px;color:#151515;-webkit-text-stroke:.2px #151515;">10:53</span>
<span class="t" style="left:630.8px;width:40px;text-align:center;font-size:8.4px;top:616.09px;color:#151515;-webkit-text-stroke:.2px #151515;">10:54</span>
<span class="t" style="left:630.8px;width:40px;text-align:center;font-size:8.4px;top:661.69px;color:#151515;-webkit-text-stroke:.2px #151515;">10:54</span>
<span class="t" style="left:678.2px;width:40px;text-align:center;font-size:8.4px;top:616.09px;color:#151515;-webkit-text-stroke:.2px #151515;">10:55</span>
<span class="t" style="left:678.2px;width:40px;text-align:center;font-size:8.4px;top:661.69px;color:#151515;-webkit-text-stroke:.2px #151515;">10:55</span>
<span class="t" style="left:725.6px;width:40px;text-align:center;font-size:8.4px;top:616.09px;color:#151515;-webkit-text-stroke:.2px #151515;">10:56</span>
<span class="t" style="left:725.6px;width:40px;text-align:center;font-size:8.4px;top:661.69px;color:#151515;-webkit-text-stroke:.2px #151515;">10:56</span>
<span class="t" style="left:773.0px;width:40px;text-align:center;font-size:8.4px;top:616.09px;color:#151515;-webkit-text-stroke:.2px #151515;">10:57</span>
<span class="t" style="left:773.0px;width:40px;text-align:center;font-size:8.4px;top:661.69px;color:#151515;-webkit-text-stroke:.2px #151515;">10:57</span>
<span class="t" style="left:820.4px;width:40px;text-align:center;font-size:8.4px;top:616.09px;color:#151515;-webkit-text-stroke:.2px #151515;">10:58</span>
<span class="t" style="left:820.4px;width:40px;text-align:center;font-size:8.4px;top:661.69px;color:#151515;-webkit-text-stroke:.2px #151515;">10:58</span>
<span class="t" style="left:867.8px;width:40px;text-align:center;font-size:8.4px;top:616.09px;color:#151515;-webkit-text-stroke:.2px #151515;">10:59</span>
<span class="t" style="left:867.8px;width:40px;text-align:center;font-size:8.4px;top:661.69px;color:#151515;-webkit-text-stroke:.2px #151515;">10:59</span>
<span class="t" style="left:915.2px;width:40px;text-align:center;font-size:8.4px;top:616.09px;color:#151515;-webkit-text-stroke:.2px #151515;">11:00</span>
<span class="t" style="left:915.2px;width:40px;text-align:center;font-size:8.4px;top:661.69px;color:#151515;-webkit-text-stroke:.2px #151515;">11:00</span>
<span class="t" style="left:145px;font-size:8.6px;top:686.92px;color:#151515;-webkit-text-stroke:.2px #151515;">Patient Manager Advanced Scenario V</span>
<span class="t" style="left:547.7px;font-size:8.6px;top:686.92px;color:#151515;-webkit-text-stroke:.2px #151515;">rUsers</span>
<span class="t" style="left:20.0px;top:465.55px;width:120px;text-align:center;font-size:8.5px;transform:rotate(-90deg);color:#151515;-webkit-text-stroke:.2px #151515;">Response Time (sec)</span>
<span class="t" style="left:926.3px;top:467.25px;width:120px;text-align:center;font-size:8.5px;transform:rotate(-90deg);color:#151515;-webkit-text-stroke:.2px #151515;">rUsers / Failures (nb)</span>
<div id="htrack" class="abs"></div><div id="hthumb" class="abs"></div>
<div id="vtrack" class="abs"></div><div id="vthumb" class="abs"></div><div id="corner" class="abs"></div>
<div id="rpsplit" class="abs"></div>
<div id="rp" class="abs"></div>
<div id="rptool" class="abs">
<svg style="left:11.8px;top:10.5px" width="11.8" height="11.4" viewBox="0 0 11.8 11.4"><g fill="#fff"><rect x=".5" y="3.8" width="2.4" height="7.6"/><rect x="4.6" y="7" width="2.4" height="4.4"/><rect x="8.8" y="0" width="2.5" height="11.4"/></g></svg>
<svg style="left:32.5px;top:9.3px" width="13" height="13" viewBox="0 0 13 13"><g fill="#8fd43a" stroke="#8fd43a" stroke-width=".8" stroke-linejoin="round"><path d="M6.5 .7 L8.6 3.3 Q6.5 4.4 4.4 3.3Z"/><path d="M6.5 12.3 L8.6 9.7 Q6.5 8.6 4.4 9.7Z"/><path d="M.7 6.5 L3.3 4.4 Q4.4 6.5 3.3 8.6Z"/><path d="M12.3 6.5 L9.7 4.4 Q8.6 6.5 9.7 8.6Z"/></g></svg>
<svg style="left:54.5px;top:9.8px" width="12.6" height="11.8" viewBox="0 0 12.6 11.8"><path d="M1.6 0 H8.2 L11 2.6 V5 H1.6Z" fill="#f4f4f4"/><path d="M2.6 1.4 H7 M2.6 2.8 H8.6" stroke="#b8b8b8" stroke-width=".7"/><rect x="0" y="3.8" width="12.6" height="8" rx=".8" fill="#e9c276"/><rect x="0" y="3.8" width="12.6" height="1.6" fill="#f3d89a"/><rect x="4.6" y="7.2" width="3.4" height="1.1" fill="#a77f35"/></svg>
<svg style="left:71.0px;top:9.5px" width="1.6" height="11.2" viewBox="0 0 1.6 11.2"><rect width="1.6" height="11.2" fill="#9dbfe2"/></svg>
<svg style="left:82.8px;top:9.2px" width="13" height="12.8" viewBox="0 0 13 12.8"><rect x="0" y="0" width="5.6" height="5.5" fill="#dcdc8a"/><rect x="7.3" y="0" width="5.7" height="5.5" fill="#f1fb88"/><rect x="0" y="7.2" width="5.6" height="5.6" fill="#f1b27e"/><rect x="7.3" y="7.2" width="5.7" height="5.6" fill="#dccffb"/></svg>
<svg style="left:105.4px;top:9.4px" width="11.8" height="12" viewBox="0 0 11.8 12"><g fill="none" stroke="#d5e6f7" stroke-width="1.5"><ellipse cx="3.3" cy="8.7" rx="2.6" ry="1.9" transform="rotate(-45 3.3 8.7)"/><ellipse cx="8.5" cy="3.5" rx="2.6" ry="1.9" transform="rotate(-45 8.5 3.5)"/><path d="M4.8 7.2 L7 5"/></g><path d="M2 0 V3.8 M.1 1.9 H3.9 M.8 .7 L3.2 3.1 M3.2 .7 L.8 3.1" stroke="#d5e6f7" stroke-width=".7"/></svg>
<svg style="left:121.1px;top:9.9px" width="1.6" height="10.8" viewBox="0 0 1.6 10.8"><rect width="1.6" height="10.8" fill="#9dbfe2"/></svg>
<svg style="left:133.0px;top:9.4px" width="11.4" height="11.2" viewBox="0 0 11.4 11.2"><path d="M1 .2 L2.8 .1 L5.4 4 L3.6 5.2Z" fill="#a8682a"/><path d="M3 4.7 L5.7 3.1 L6.6 4.5 L3.9 6.1Z" fill="#d9503a"/><path d="M3.7 6 L6.5 4.4 Q10.2 4.8 11.4 7.6 Q9.4 10.6 5.6 11.2 Q3 9.2 3.7 6Z" fill="#f3da5e"/><path d="M5.2 6.8 L6.6 10.6 M6.8 6 L9.2 9.4 M8.2 5.4 L10.6 8" stroke="#d9ba3c" stroke-width=".6"/></svg>
<svg style="left:155.0px;top:9.4px" width="12.4" height="12.2" viewBox="0 0 12.4 12.2"><path d="M1.6 2 Q5.4 5.2 10.6 10.8" stroke="#e71f3b" stroke-width="3.1" stroke-linecap="round" fill="none"/><path d="M1.9 10.6 Q5.4 5.4 11.2 1.2" stroke="#e71f3b" stroke-width="2.6" stroke-linecap="round" fill="none"/><path d="M7.4 4 Q9.4 2.2 11.4 1" stroke="#f7929d" stroke-width="1.5" stroke-linecap="round" fill="none"/></svg>
</div>
<div id="tree" class="abs">
<div class="abs" style="left:0;top:0;width:209px;height:18.7px;background:#c6ddf0"></div>
<svg style="left:0.0px;top:0.0px" width="209" height="540" viewBox="0 0 209 540"><g transform="translate(-1067,-130)"><path d="M1078.3 130 V135.7" stroke="#9aa4ad" stroke-width=".7"/><path d="M1093.8 148.7 V322.0" stroke="#b9b9b9" stroke-width="1" stroke-dasharray="1 1"/><path d="M1094 158.3 H1102" stroke="#b9b9b9" stroke-width="1" stroke-dasharray="1 1"/><path d="M1094 177.0 H1102" stroke="#b9b9b9" stroke-width="1" stroke-dasharray="1 1"/><path d="M1094 195.6 H1102" stroke="#b9b9b9" stroke-width="1" stroke-dasharray="1 1"/><path d="M1094 214.2 H1102" stroke="#b9b9b9" stroke-width="1" stroke-dasharray="1 1"/><path d="M1094 232.8 H1102" stroke="#b9b9b9" stroke-width="1" stroke-dasharray="1 1"/><path d="M1094 251.5 H1102" stroke="#b9b9b9" stroke-width="1" stroke-dasharray="1 1"/><path d="M1094 270.1 H1102" stroke="#b9b9b9" stroke-width="1" stroke-dasharray="1 1"/><path d="M1094 288.7 H1102" stroke="#b9b9b9" stroke-width="1" stroke-dasharray="1 1"/><path d="M1094 307.4 H1102" stroke="#b9b9b9" stroke-width="1" stroke-dasharray="1 1"/><path d="M1109.4 334.0 V419.1" stroke="#b9b9b9" stroke-width="1" stroke-dasharray="1 1"/><path d="M1124.3 352.6 V381.9 H1132 M1124.3 363.3 H1132" stroke="#b9b9b9" stroke-width="1" stroke-dasharray="1 1" fill="none"/><path d="M1083 139.7 H1086 M1098 158.3 H1102 M1098 177.0 H1102 M1098 326.0 H1101 M1113.5 344.6 H1116.5 M1113.5 400.5 H1116.5 M1113.5 419.1 H1116.5" stroke="#b9b9b9" stroke-width="1" stroke-dasharray="1 1"/></g></svg>
<svg style="left:7.3px;top:5.7px" width="8" height="8" viewBox="0 0 8 8"><rect x="0" y="0" width="8" height="8" fill="#e3e8ec"/><path d="M1.6 4 H6.4" stroke="#8d979f" stroke-width="1"/></svg>
<svg style="left:19.6px;top:5.8px" width="12.6" height="7.6" viewBox="0 0 12.6 7.6"><path d="M.5 7 A5.8 6.4 0 0 1 12.1 7 Z" fill="#fff" stroke="#8a8f94" stroke-width="1"/><path d="M6.3 6.4 L4.6 2.8 M8 3 L9.4 5.4" stroke="#e0402a" stroke-width="1.1"/></svg>
<span class="t" style="left:35.299999999999955px;font-size:11.73px;top:3.27px;">Patient Manager_Desktop app Test Plan_video</span>
<svg style="left:22.8px;top:24.3px" width="8" height="8" viewBox="0 0 8 8"><rect x="0" y="0" width="8" height="8" fill="#e3e8ec"/><path d="M1.6 4 H6.4" stroke="#8d979f" stroke-width="1"/><path d="M4 1.6 V6.4" stroke="#8d979f" stroke-width="1"/></svg>
<svg style="left:36.2px;top:23.1px" width="10.2" height="9.8" viewBox="0 0 10.2 9.8"><path d="M0 3 L9.2 .2 L9.6 1.8 L.4 4.6Z" fill="#8fb4e6"/><path d="M2.2 2.3 L3.4 4 M4.8 1.5 L6 3.2 M7.4 .7 L8.6 2.4" stroke="#fff" stroke-width=".7"/><rect x="0" y="3.9" width="10.2" height="5.9" rx=".6" fill="#6f9fdc"/></svg>
<span class="t" style="left:50.59999999999991px;font-size:11.73px;top:21.90px;">Patient Manager Advanced Scenario V</span>
<svg style="left:22.8px;top:43.0px" width="8" height="8" viewBox="0 0 8 8"><rect x="0" y="0" width="8" height="8" fill="#e3e8ec"/><path d="M1.6 4 H6.4" stroke="#8d979f" stroke-width="1"/><path d="M4 1.6 V6.4" stroke="#8d979f" stroke-width="1"/></svg>
<svg style="left:36.2px;top:41.8px" width="10.2" height="9.8" viewBox="0 0 10.2 9.8"><path d="M0 3 L9.2 .2 L9.6 1.8 L.4 4.6Z" fill="#8fb4e6"/><path d="M2.2 2.3 L3.4 4 M4.8 1.5 L6 3.2 M7.4 .7 L8.6 2.4" stroke="#fff" stroke-width=".7"/><rect x="0" y="3.9" width="10.2" height="5.9" rx=".6" fill="#6f9fdc"/></svg>
<span class="t" style="left:50.59999999999991px;font-size:11.73px;top:40.53px;">CitrixLogin</span>
<svg style="left:36.2px;top:60.6px" width="9.4" height="10" viewBox="0 0 9.4 10"><circle cx="1.4" cy="5" r="1.3" fill="#e81be8"/><g fill="none" stroke="#6ed655" stroke-width="1.15" stroke-linecap="round"><path d="M3.4 3 Q4.8 5 3.4 7"/><path d="M5 1.6 Q7.2 5 5 8.4"/><path d="M6.8 .5 Q9.8 5 6.8 9.5"/></g></svg>
<span class="t" style="left:50.700000000000045px;font-size:11.73px;top:59.16px;">TotalCPU (Localhost)</span>
<svg style="left:36.2px;top:79.2px" width="9.4" height="10" viewBox="0 0 9.4 10"><circle cx="1.4" cy="5" r="1.3" fill="#e81be8"/><g fill="none" stroke="#6ed655" stroke-width="1.15" stroke-linecap="round"><path d="M3.4 3 Q4.8 5 3.4 7"/><path d="M5 1.6 Q7.2 5 5 8.4"/><path d="M6.8 .5 Q9.8 5 6.8 9.5"/></g></svg>
<span class="t" style="left:50.700000000000045px;font-size:11.73px;top:77.79px;">pctusedphysical (Localhost)</span>
<svg style="left:36.2px;top:97.8px" width="9.4" height="10" viewBox="0 0 9.4 10"><circle cx="1.4" cy="5" r="1.3" fill="#e81be8"/><g fill="none" stroke="#6ed655" stroke-width="1.15" stroke-linecap="round"><path d="M3.4 3 Q4.8 5 3.4 7"/><path d="M5 1.6 Q7.2 5 5 8.4"/><path d="M6.8 .5 Q9.8 5 6.8 9.5"/></g></svg>
<span class="t" style="left:50.700000000000045px;font-size:11.73px;top:96.42px;">pctusedspace (C:) (Localhost)</span>
<svg style="left:36.2px;top:116.5px" width="9.4" height="10" viewBox="0 0 9.4 10"><circle cx="1.4" cy="5" r="1.3" fill="#e81be8"/><g fill="none" stroke="#6ed655" stroke-width="1.15" stroke-linecap="round"><path d="M3.4 3 Q4.8 5 3.4 7"/><path d="M5 1.6 Q7.2 5 5 8.4"/><path d="M6.8 .5 Q9.8 5 6.8 9.5"/></g></svg>
<span class="t" style="left:50.700000000000045px;font-size:11.73px;top:115.05px;">pctusedvirtual (Localhost)</span>
<svg style="left:36.2px;top:135.1px" width="9.4" height="10" viewBox="0 0 9.4 10"><circle cx="1.4" cy="5" r="1.3" fill="#e81be8"/><g fill="none" stroke="#6ed655" stroke-width="1.15" stroke-linecap="round"><path d="M3.4 3 Q4.8 5 3.4 7"/><path d="M5 1.6 Q7.2 5 5 8.4"/><path d="M6.8 .5 Q9.8 5 6.8 9.5"/></g></svg>
<span class="t" style="left:50.700000000000045px;font-size:11.73px;top:133.68px;">physicalmemory (Localhost)</span>
<svg style="left:36.2px;top:153.7px" width="9.4" height="10" viewBox="0 0 9.4 10"><circle cx="1.4" cy="5" r="1.3" fill="#e81be8"/><g fill="none" stroke="#6ed655" stroke-width="1.15" stroke-linecap="round"><path d="M3.4 3 Q4.8 5 3.4 7"/><path d="M5 1.6 Q7.2 5 5 8.4"/><path d="M6.8 .5 Q9.8 5 6.8 9.5"/></g></svg>
<span class="t" style="left:50.700000000000045px;font-size:11.73px;top:152.31px;">usedspace (C:) (Localhost)</span>
<svg style="left:36.2px;top:172.4px" width="9.4" height="10" viewBox="0 0 9.4 10"><circle cx="1.4" cy="5" r="1.3" fill="#e81be8"/><g fill="none" stroke="#6ed655" stroke-width="1.15" stroke-linecap="round"><path d="M3.4 3 Q4.8 5 3.4 7"/><path d="M5 1.6 Q7.2 5 5 8.4"/><path d="M6.8 .5 Q9.8 5 6.8 9.5"/></g></svg>
<span class="t" style="left:50.700000000000045px;font-size:11.73px;top:170.94px;">virtualmemory (Localhost)</span>
<svg style="left:23.0px;top:192.0px" width="8" height="8" viewBox="0 0 8 8"><rect x="0" y="0" width="8" height="8" fill="#e3e8ec"/><path d="M1.6 4 H6.4" stroke="#8d979f" stroke-width="1"/></svg>
<svg style="left:35.4px;top:189.6px" width="10.6" height="12.6" viewBox="0 0 10.6 12.6"><rect x="0" y="0" width="10.6" height="12.6" fill="#3fae58"/><rect x="7.2" y="0" width="3.4" height="12.6" fill="#d9453f"/><path d="M0 3.2 H10.6 M0 6.3 H10.6 M0 9.4 H10.6" stroke="#e6f2e6" stroke-width=".8"/><path d="M6.6 0 V12.6" stroke="#c9d9c9" stroke-width=".6"/></svg>
<span class="t" style="left:50.799999999999955px;font-size:11.73px;top:189.57px;">Injectors</span>
<svg style="left:38.4px;top:210.6px" width="8" height="8" viewBox="0 0 8 8"><rect x="0" y="0" width="8" height="8" fill="#e3e8ec"/><path d="M1.6 4 H6.4" stroke="#8d979f" stroke-width="1"/></svg>
<svg style="left:50.3px;top:208.4px" width="12.4" height="12.4" viewBox="0 0 12.4 12.4"><rect x=".7" y=".7" width="11" height="11" fill="#fff" stroke="#3a9ccb" stroke-width="1.4"/><rect x="4" y="4" width="4.4" height="4.4" fill="#3a9ccb"/></svg>
<span class="t" style="left:65.90000000000009px;font-size:11.73px;top:208.20px;">cpu</span>
<svg style="left:67.0px;top:228.3px" width="9.4" height="10" viewBox="0 0 9.4 10"><circle cx="1.4" cy="5" r="1.3" fill="#e81be8"/><g fill="none" stroke="#6ed655" stroke-width="1.15" stroke-linecap="round"><path d="M3.4 3 Q4.8 5 3.4 7"/><path d="M5 1.6 Q7.2 5 5 8.4"/><path d="M6.8 .5 Q9.8 5 6.8 9.5"/></g></svg>
<span class="t" style="left:81.79999999999995px;font-size:11.73px;top:226.83px;">Threads in the CPU Queue</span>
<svg style="left:67.0px;top:246.9px" width="9.4" height="10" viewBox="0 0 9.4 10"><circle cx="1.4" cy="5" r="1.3" fill="#e81be8"/><g fill="none" stroke="#6ed655" stroke-width="1.15" stroke-linecap="round"><path d="M3.4 3 Q4.8 5 3.4 7"/><path d="M5 1.6 Q7.2 5 5 8.4"/><path d="M6.8 .5 Q9.8 5 6.8 9.5"/></g></svg>
<span class="t" style="left:81.79999999999995px;font-size:11.73px;top:245.46px;">Total CPU Usage (WIN-</span>
<svg style="left:38.4px;top:266.5px" width="8" height="8" viewBox="0 0 8 8"><rect x="0" y="0" width="8" height="8" fill="#e3e8ec"/><path d="M1.6 4 H6.4" stroke="#8d979f" stroke-width="1"/><path d="M4 1.6 V6.4" stroke="#8d979f" stroke-width="1"/></svg>
<svg style="left:50.3px;top:264.3px" width="12.4" height="12.4" viewBox="0 0 12.4 12.4"><rect x=".7" y=".7" width="11" height="11" fill="#fff" stroke="#3a9ccb" stroke-width="1.4"/><rect x="4" y="4" width="4.4" height="4.4" fill="#3a9ccb"/></svg>
<span class="t" style="left:65.90000000000009px;font-size:11.73px;top:264.09px;">memory</span>
<svg style="left:38.4px;top:285.1px" width="8" height="8" viewBox="0 0 8 8"><rect x="0" y="0" width="8" height="8" fill="#e3e8ec"/><path d="M1.6 4 H6.4" stroke="#8d979f" stroke-width="1"/><path d="M4 1.6 V6.4" stroke="#8d979f" stroke-width="1"/></svg>
<svg style="left:50.3px;top:282.9px" width="12.4" height="12.4" viewBox="0 0 12.4 12.4"><rect x=".7" y=".7" width="11" height="11" fill="#fff" stroke="#3a9ccb" stroke-width="1.4"/><rect x="4" y="4" width="4.4" height="4.4" fill="#3a9ccb"/></svg>
<span class="t" style="left:65.90000000000009px;font-size:11.73px;top:282.72px;">disk</span>
<div class="abs" style="left:0;top:526.5px;width:209px;height:13.5px;background:#f8f8f8;border-top:1px solid #ececec"></div>
<div class="abs" style="left:2.6px;top:530.2px;width:103px;height:7.2px;border-radius:4px;background:#c2c2c2"></div>
</div>
<span class="t" style="left:1078.9px;font-size:11.7px;font-weight:bold;color:#fff;-webkit-text-stroke:.25px #fff;top:76.90px">Load Test</span>
<div class="abs" style="left:1067px;top:670px;width:207px;height:3.5px;background:#fff"></div>
<span class="t" style="left:1078.9px;font-size:11.8px;font-weight:bold;color:#fff;-webkit-text-stroke:.25px #fff;top:683.21px">Widgets &amp; Templates</span>
<div class="abs" style="left:1067px;top:706.3px;width:207px;height:2.4px;background:#fff"></div>
<div id="rpedge" class="abs"></div><div id="rpedge2" class="abs"></div>
</div>
</body>
</html>
